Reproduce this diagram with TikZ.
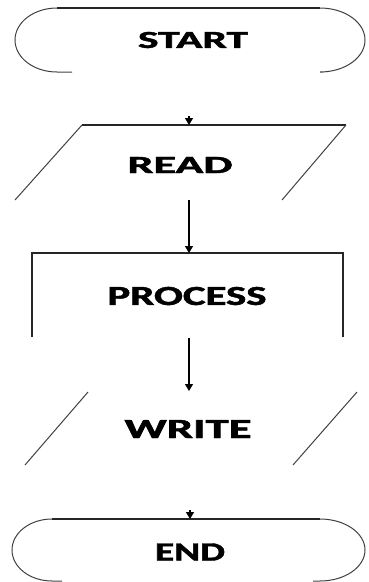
\documentclass[tikz,border=0pt]{standalone}
\usepackage{fontspec}
\setmainfont{Carlito}
\newfontfamily\heavy{Carlito}[BoldFeatures={FakeBold=1.6}]
\usetikzlibrary{arrows.meta}
\newcommand{\flbl}[3]{\resizebox{#1pt}{#2pt}{\heavy\bfseries #3}}
\begin{document}
\begin{tikzpicture}[x=1pt,y=-1pt,
  edge/.style={line width=1.4pt,black!85},
  thin/.style={line width=1pt,black!75},
  lbl/.style={inner sep=0pt,text=black},
  flow/.style={line width=1.2pt,-{Triangle[length=7pt,width=8pt]}}]
\useasboundingbox (0,0) rectangle (368,582);
% START terminal (open bottom)
\draw[edge] (57,8) -- (320,8);
\draw[thin] (57,8) arc[start angle=90,end angle=270,x radius=42pt,y radius=32pt] -- (72,72);
\draw[thin] (320,8) arc[start angle=90,end angle=-90,x radius=45pt,y radius=32pt] -- (323,72);
\node[lbl] (start) at (193,40) {\flbl{110}{16}{START}};
% READ
\draw[edge] (82,125) -- (346,125);
\draw[thin] (82,125) -- (15,200);
\draw[thin] (346,125) -- (282,200);
\node[lbl] (read) at (180,165) {\flbl{105}{16}{READ}};
% PROCESS
\draw[edge] (32,337) -- (32,253) -- (343,253) -- (343,337);
\node[lbl] (process) at (187,296) {\flbl{159}{18}{PROCESS}};
% WRITE
\draw[thin] (88,392) -- (25,465);
\draw[thin] (357,392) -- (293,465);
\node[lbl] (write) at (188,429) {\flbl{127}{18}{WRITE}};
% END terminal
\draw[edge] (52,519) -- (320,519);
\draw[thin] (52,519) arc[start angle=90,end angle=270,x radius=40pt,y radius=31pt] -- (62,581);
\draw[thin] (320,519) arc[start angle=90,end angle=-90,x radius=45pt,y radius=31pt] -- (313,581);
\node[lbl] (end) at (190,552) {\flbl{70}{17}{END}};
% connectors
\coordinate (a1s) at (189,116);
\coordinate (a1e) at (189,125);
\coordinate (a2s) at (189,200);
\coordinate (a2e) at (189,253);
\coordinate (a3s) at (189,338);
\coordinate (a3e) at (189,391);
\coordinate (a4s) at (190,510);
\coordinate (a4e) at (190,519);
\draw[flow] (a1s) -- (a1e);
\draw[flow] (a2s) -- (a2e);
\draw[flow] (a3s) -- (a3e);
\draw[flow] (a4s) -- (a4e);
\end{tikzpicture}
\end{document}
